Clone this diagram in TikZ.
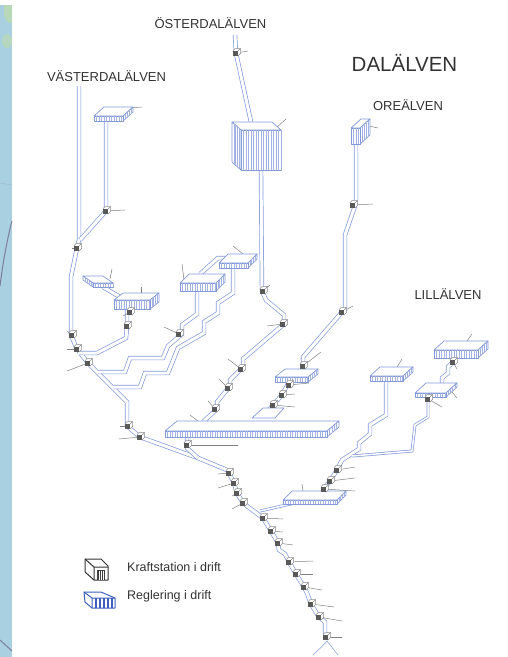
\documentclass[tikz,border=0pt]{standalone}
\usepackage{fontspec}
\setmainfont{Liberation Sans}
\usepackage{tikz}
\usetikzlibrary{calc}
\definecolor{riverblue}{HTML}{8299DA}
\definecolor{legendblue}{HTML}{3F5FC0}
\definecolor{labelgray}{HTML}{333333}
\definecolor{leadgray}{HTML}{808080}
\definecolor{stripblue}{HTML}{A9D0E0}
\definecolor{stripgreen}{HTML}{BEDDA8}
\tikzset{>=latex}
\tikzset{river/.style={draw=riverblue, line width=.7pt, double=white, double distance=3pt, line join=miter}}
\tikzset{thinriver/.style={river, double distance=1.5pt}}
\tikzset{resv/.style={draw=riverblue, fill=white, line width=.7pt, line join=round}}
\tikzset{hatch/.style={draw=riverblue!75, line width=.4pt}}
\tikzset{leader/.style={draw=leadgray, line width=.5pt}}
\tikzset{rivername/.style={text=labelgray, font=\fontsize{13}{14}\selectfont, inner sep=0pt}}
\tikzset{legendtext/.style={text=labelgray, font=\fontsize{12.5}{14}\selectfont, inner sep=0pt, anchor=west}}

% x, y, width, height, shift x, shift y
\newcommand{\reservoir}[6]{%
  \begin{scope}[shift={(#1,#2)}]
    \pgfmathsetmacro{\sidex}{#5>0 ? #3 : 0}
    \filldraw[resv] (0,0) -- (#3,0) -- ++(#5,-#6) -- ++(-#3,0) -- cycle;
    \filldraw[resv] (\sidex,0) -- ++(#5,-#6) -- ++(0,#4) -- ++(-#5,#6) -- cycle;
    \filldraw[resv] (0,0) rectangle (#3,#4);
    \foreach \h in {2.5,5,...,#3} \draw[hatch] (\h,0) -- (\h,#4);
    \foreach \s in {.2,.4,.6,.8} \draw[hatch] (\sidex+\s*#5,-\s*#6) -- ++(0,#4);
  \end{scope}}

\newcommand{\station}[2]{%
  \begin{scope}[shift={(#1,#2)}]
    \filldraw[draw=black!45, fill=white, line width=.5pt] (-3,-2) -- (-1,-4.5) -- (4.5,-4.5) -- (4.5,.5) -- (2,3) -- cycle;
    \draw[black!45, line width=.5pt] (2,-2) -- (4.5,-4.5);
    \fill[black!65] (-3,-2) rectangle (2,3);
  \end{scope}}

\begin{document}
\begin{tikzpicture}[x=1pt,y=-1pt]
  \useasboundingbox (0,0) rectangle (508,657);
  % map strip on the left
  \fill[stripblue] (0,5) rectangle (12,657);
  \fill[stripgreen, opacity=.7] (4,5) -- (12,5) -- (12,22) .. controls (9,25) and (6,22) .. (4,14) -- cycle;
  \fill[stripgreen, opacity=.6] (2,42) .. controls (3,32) and (8,32) .. (12,38) -- (12,44) .. controls (9,50) and (4,50) .. (2,42) -- cycle;
  \draw[stripblue!70!gray, line width=.4pt] (0,183) -- (12,185);
  \draw[black!25!stripblue!80!violet, line width=1pt] (12,221) .. controls (7,240) and (3,262) .. (0,286);
  \draw[black!25!stripblue!80!violet, line width=1pt] (0,640) -- (12,651);

  % vasterdalalven
  \draw[river] (79,86) -- (79,240) -- (77,248) -- (71,277) -- (71,335) -- (77,349) -- (88,363) -- (127,402) -- (127,426) -- (140,437) -- (198,458) -- (227,470) -- (229,473);
  \draw[river] (106,120) -- (106,211) -- (80,240);
  \draw[river] (103,287) -- (120,297);
  \draw[river] (127,309) -- (127,326) -- (126,338) -- (97,353) -- (78,353);
  % osterdalalven
  \draw[river] (235,35) -- (236,53) -- (251,122);
  \draw[river] (261,170) -- (262,291) -- (266,300) -- (284,315) -- (284,324) -- (243,359) -- (243,367) -- (230,380) -- (230,386) -- (217,402) -- (217,409) -- (203,422);
  % orealven
  \draw[river] (356,144) -- (356,203) -- (345,235) -- (345,310) -- (342,312) -- (303,357) -- (303,368);
  \draw[river] (289,382) -- (282,395) -- (273,405) -- (267,412);
  \draw[thinriver] (258,417) -- (258,422);
  % the stairs
  \draw[river] (200,274) -- (218,258) -- (228,258);
  \draw[river] (197,291) -- (197,314) -- (182,325) -- (182,334) -- (168,346) -- (163,358) -- (130,358) -- (125,372) -- (98,372);
  \draw[river] (233,267) -- (233,293) -- (218,303) -- (218,313) -- (204,322) -- (204,333) -- (178,348) -- (168,373) -- (145,373) -- (140,387) -- (113,387);
  \draw[river] (187,437) -- (187,448) -- (198,458);
  % main river
  \draw[river] (229,473) -- (234,483) -- (237,493) -- (243,503) -- (263,518) -- (271,531) -- (278,543) -- (279,550) -- (285,554) -- (289,562) -- (296,574) -- (304,587) -- (307,593) -- (311,604) -- (319,617) -- (325,622) -- (325,633) -- (326,637);
  \draw[thinriver] (260,511) -- (295,503);
  \draw[riverblue!80, line width=.7pt] (313,655) .. controls (320,648) and (323,646) .. (327,641) .. controls (331,646) and (334,650) .. (338,655);
  % lillalven
  \draw[river] (386,380) -- (386,415) -- (370,425) -- (370,434) -- (359,443) -- (359,449) -- (342,460) -- (337,470) -- (330,481) -- (324,489);
  \draw[thinriver] (352,456) -- (412,451) -- (415,425) -- (428,417) -- (428,399);
  \draw[river] (453,362) -- (448,367) -- (448,373) -- (442,378) -- (442,385);

  % flat reservoir
  \filldraw[resv] (252,418) -- (275,418) -- (284,408) -- (263,408) -- cycle;

  % reservoirs with their leaders
  \foreach \x/\y/\lx/\ly in {130/108/142/107, 276/128/286/119, 369/126/378/128, 110/279/112/269, 141/293/141/287, 184/280/182/264, 243/254/233/246, 198/421/190/415, 397/367/402/359, 452/392/457/398, 467/341/472/334, 303/491/302/484}
    \draw[leader] (\x,\y) -- (\lx,\ly);
  \reservoir{94}{116}{29}{5}{10}{9}
  \reservoir{241}{130}{40}{40}{-9}{8}
  \reservoir{351}{128}{9}{16}{10}{9}
  \reservoir{93}{283}{20}{4}{-10}{7}
  \reservoir{114}{300}{36}{9}{9}{7}
  \reservoir{219}{263}{29}{5}{9}{9}
  \reservoir{180}{283}{36}{8}{9}{9}
  \reservoir{165}{431}{162}{6}{12}{10}
  \reservoir{275}{377}{33}{5}{10}{8}
  \reservoir{370}{376}{33}{5}{10}{9}
  \reservoir{415}{393}{31}{4}{11}{10}
  \reservoir{434}{350}{44}{8}{10}{9}
  \reservoir{283}{500}{54}{4}{9}{9}

  % power stations with their leaders
  \foreach \x/\y/\lx/\ly in {236/53/248/51, 106/211/125/210, 77/248/72/248, 353/205/373/204, 263/291/270/285, 342/312/353/306, 283/324/267/326, 72/335/67/331, 77/349/67/349, 88/363/67/371, 128/426/120/426, 140/437/119/439, 130/312/123/316, 127/326/125/327, 179/334/164/327, 241/369/228/359, 228/388/219/379, 215/409/208/401, 303/366/321/352, 289/385/309/383, 282/395/295/394, 273/405/295/407, 187/445/238/445, 229/473/218/474, 234/483/218/488, 237/493/232/496, 243/503/232/509, 263/518/283/519, 271/531/283/532, 278/543/293/545, 289/562/313/561, 296/574/313/574, 304/587/322/590, 311/604/334/607, 319/617/342/621, 326/637/342/637, 324/489/355/491, 330/481/355/478, 337/470/355/467, 428/399/442/407, 453/362/457/369} {
    \draw[leader] (\x,\y) -- (\lx,\ly);
    \station{\x}{\y}
  }

  % names
  \node[rivername] (osterdal) at (210.5,23) {ÖSTERDALÄLVEN};
  \node[rivername] (vasterdal) at (106.5,76) {VÄSTERDALÄLVEN};
  \node[rivername] (orealven) at (408,105) {OREÄLVEN};
  \node[rivername] (lillalven) at (448,294) {LILLÄLVEN};
  \node[text=labelgray, font=\fontsize{20.5}{22}\selectfont, inner sep=0pt] (dalalven) at (404.5,63) {DALÄLVEN};

  % legend
  \draw[black!80, line width=1pt, line join=round, fill=white] (85,559) -- (101,559) -- (108,566) -- (108,580) -- (94,580) -- (85,572) -- cycle;
  \draw[black!80, line width=1pt, line join=round] (85,559) -- (94,567) -- (108,567) (94,567) -- (94,580);
  \fill[black!75] (97,570) rectangle (105,580);
  \foreach \h in {99,101,103} \draw[white, line width=.3pt] (\h,571) -- (\h,580);
  \draw[legendblue, line width=1pt, line join=round] (84,592) -- (101,592) -- (115,598) -- (115,608) -- (92,608) -- (85,602) -- cycle;
  \draw[legendblue, line width=1pt, line join=round] (84,592) -- (92,598) -- (115,598) (92,598) -- (92,608);
  \foreach \h in {96,100,...,112} \draw[legendblue, line width=1.2pt] (\h,598) -- (\h,608);
  \node[legendtext] (kraftstation) at (127,567) {Kraftstation i drift};
  \node[legendtext] (reglering) at (127,596) {Reglering i drift};
\end{tikzpicture}
\end{document}
